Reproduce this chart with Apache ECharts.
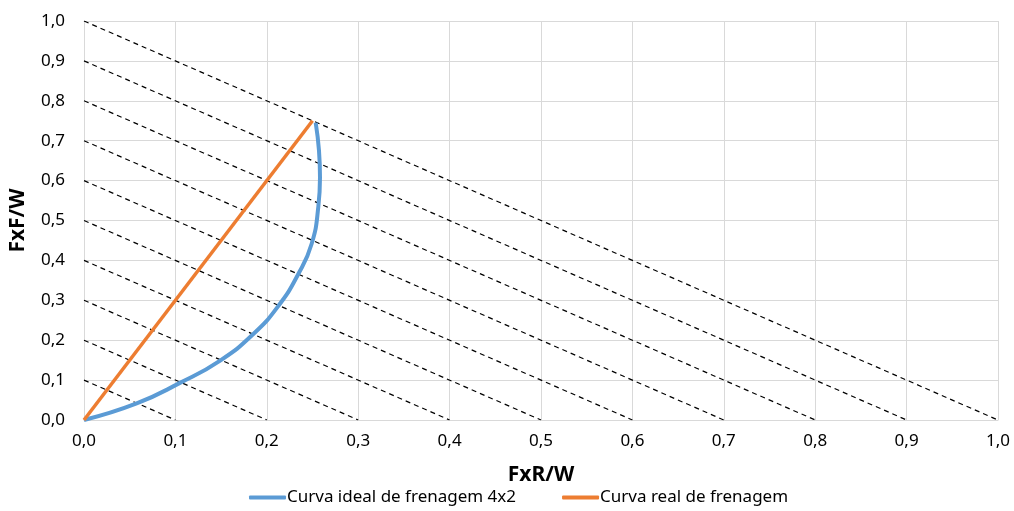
<!DOCTYPE html>
<html>
<head>
<meta charset="utf-8">
<script src="https://cdn.jsdelivr.net/npm/echarts@6/dist/echarts.min.js"></script>
<style>
  html, body { margin: 0; padding: 0; background: #fff; }
  #chart { width: 1014px; height: 511px; }
</style>
</head>
<body>
<div id="chart"></div>
<script>
// dados
const idealX = [0, 0.0576, 0.105, 0.149, 0.1853, 0.213, 0.2345, 0.249, 0.2564, 0.2582, 0.2571, 0.2535]
const idealY = [0, 0.0416, 0.093, 0.149, 0.2155, 0.287, 0.366, 0.441, 0.535, 0.608, 0.675, 0.745]
const realX = [0, 0.25]
const realY = [0, 0.75]
// retas de desaceleração constante (Fx/W = k)
const decelLevels = [0.1, 0.2, 0.3, 0.4, 0.5, 0.6, 0.7, 0.8, 0.9, 1.0]

const font = 'Noto Sans'
const fmt = v => v.toFixed(1).replace('.', ',')

const chart = echarts.init(document.getElementById('chart'))

const dashSeries = decelLevels.map(k => ({
  type: 'line',
  data: [[0, k], [k, 0]],
  symbol: 'none',
  silent: true,
  lineStyle: { color: '#000', width: 1.2, type: [5, 4] },
  z: 1
}))

chart.setOption({
  animation: false,
  grid: { left: 84, right: 16, top: 21, bottom: 91 },
  legend: {
    bottom: 0,
    left: 244,
    itemWidth: 37,
    itemHeight: 4,
    itemGap: 46,
    icon: 'roundRect',
    textStyle: { fontFamily: font, fontSize: 17, color: '#000', padding: [0, 0, 0, -4] },
    data: ['Curva ideal de frenagem 4x2', 'Curva real de frenagem']
  },
  xAxis: {
    type: 'value',
    min: 0, max: 1, interval: 0.1,
    name: 'FxR/W',
    nameLocation: 'middle',
    nameGap: 45,
    nameTextStyle: { fontFamily: font, fontSize: 21, fontWeight: 'bold', color: '#000' },
    axisLine: { show: true, lineStyle: { color: '#d9d9d9' } },
    axisTick: { show: false },
    axisLabel: { fontFamily: font, fontSize: 17, color: '#000', margin: 13, formatter: fmt },
    splitLine: { lineStyle: { color: '#d9d9d9' } }
  },
  yAxis: {
    type: 'value',
    min: 0, max: 1, interval: 0.1,
    name: 'FxF/W',
    nameLocation: 'middle',
    nameGap: 55,
    nameTextStyle: { fontFamily: font, fontSize: 21, fontWeight: 'bold', color: '#000' },
    axisLine: { show: true, lineStyle: { color: '#d9d9d9' } },
    axisTick: { show: false },
    axisLabel: { fontFamily: font, fontSize: 17, color: '#000', margin: 19, formatter: fmt },
    splitLine: { lineStyle: { color: '#d9d9d9' } }
  },
  series: [
    ...dashSeries,
    {
      name: 'Curva ideal de frenagem 4x2',
      type: 'line',
      data: idealX.map((x, i) => [x, idealY[i]]),
      smooth: 0.5,
      symbol: 'none',
      color: '#5b9bd5',
      lineStyle: { width: 4, color: '#5b9bd5' },
      z: 3
    },
    {
      name: 'Curva real de frenagem',
      type: 'line',
      data: realX.map((x, i) => [x, realY[i]]),
      symbol: 'none',
      color: '#ed7d31',
      lineStyle: { width: 3.5, color: '#ed7d31' },
      z: 4
    }
  ]
})
</script>
</body>
</html>
